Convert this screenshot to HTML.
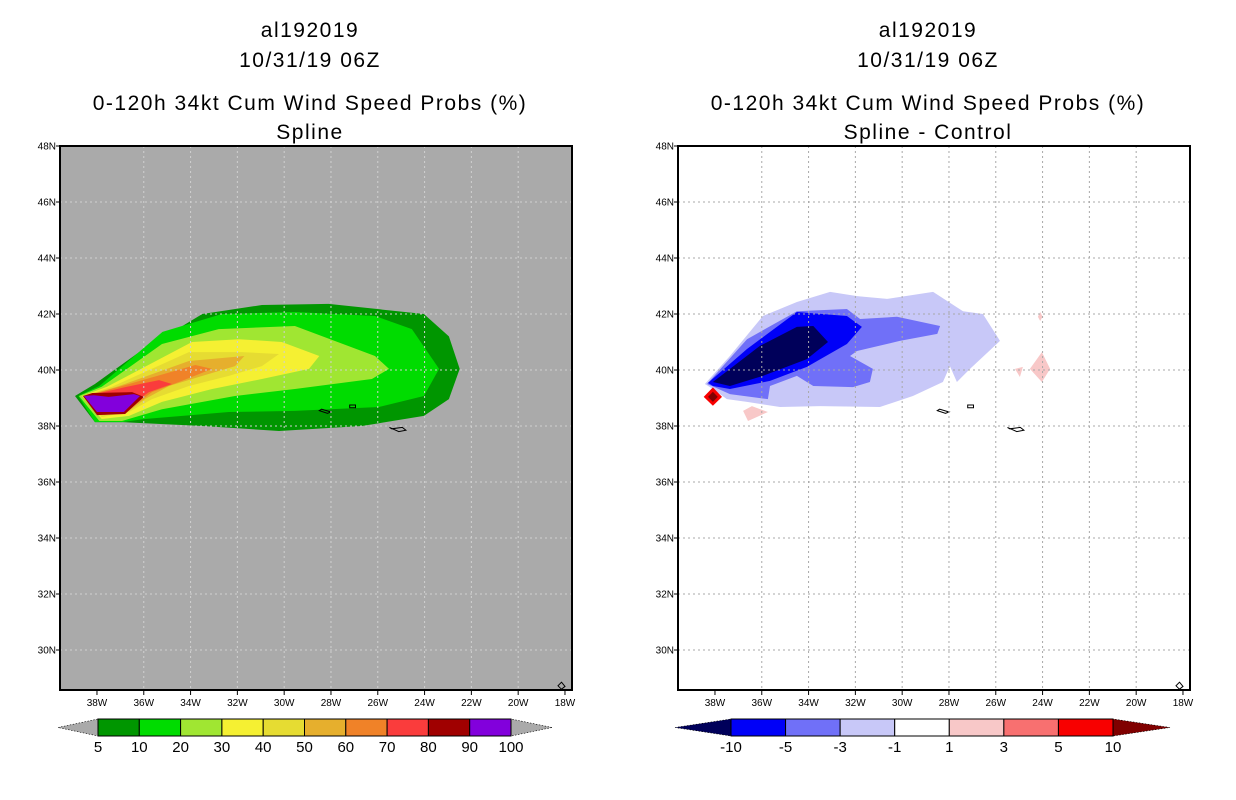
<!DOCTYPE html>
<html><head><meta charset="utf-8"><style>
html,body{margin:0;padding:0;background:#fff;}
svg{display:block;font-family:"Liberation Sans",sans-serif;}
.t{font-size:21px;letter-spacing:1.5px;text-anchor:middle;fill:#000;}
.tk{font-size:10px;fill:#000;}
.cb{font-size:15px;text-anchor:middle;fill:#000;}
</style></head><body>
<svg id="chart" width="1236" height="800" viewBox="0 0 1236 800" xmlns="http://www.w3.org/2000/svg">
<defs>
<clipPath id="clipL"><rect x="60" y="146" width="512" height="544"/></clipPath>
<clipPath id="clipR"><rect x="678" y="146" width="511" height="544"/></clipPath>
</defs>
<g>
<text class="t" x="310" y="37">al192019</text>
<text class="t" x="310" y="67">10/31/19 06Z</text>
<text class="t" x="310" y="110">0-120h 34kt Cum Wind Speed Probs (%)</text>
<text class="t" x="310" y="139">Spline</text>
</g>
<g>
<text class="t" x="928" y="37">al192019</text>
<text class="t" x="928" y="67">10/31/19 06Z</text>
<text class="t" x="928" y="110">0-120h 34kt Cum Wind Speed Probs (%)</text>
<text class="t" x="928" y="139">Spline - Control</text>
</g>
<g id="left"></g>
<g id="right"></g>
<g id="cbars"></g>
</svg>
<script>
const latTicks=[48,46,44,42,40,38,36,34,32,30];
const lonTicks=[38,36,34,32,30,28,26,24,22,20,18];
const leftLevels=["5","10","20","30","40","50","60","70","80","90","100"];
const leftColors=["#009600","#00dc00","#a0e632","#f5f032","#e6dc32","#e6af2d","#f08228","#fa3c3c","#a00000","#8200dc"];
const rightLevels=["-10","-5","-3","-1","1","3","5","10"];
const rightColors=["#00005a","#0000f8","#7070f8","#c8c8f8","#ffffff","#f8c8c8","#f87070","#f80000"];
const p5=[[38.94,39.07],[38.09,39.5],[36.2,40.64],[33.5,42.0],[30.95,42.32],[28.1,42.36],[24.03,42.0],[22.96,41.2],[22.5,40.04],[22.96,38.96],[24.03,38.36],[26.68,38.0],[30.22,37.82],[33.5,38.0],[36.93,38.14],[38.09,38.14]];
const p10=[[38.8,39.07],[37.9,39.43],[35.2,41.36],[32.66,42.0],[29.54,42.07],[26.12,41.93],[24.54,41.46],[23.38,40.04],[24.03,39.07],[25.95,38.68],[29.54,38.54],[32.36,38.5],[35.95,38.25],[36.93,38.14],[38.09,38.14]];
const p20=[[38.77,39.07],[37.8,39.4],[35.22,40.93],[32.8,41.46],[29.54,41.57],[26.12,40.5],[25.52,40.04],[26.25,39.68],[29.54,39.32],[32.1,39.07],[35.22,38.6],[36.93,38.18],[37.9,38.18]];
const p30=[[38.64,39.07],[37.57,39.4],[33.94,41.0],[31.93,41.1],[30.1,41.0],[28.5,40.5],[28.94,40.04],[30.95,39.68],[33.08,39.32],[35.22,38.86],[36.63,38.36],[37.8,38.25]];
const p40=[[38.56,39.07],[37.36,39.4],[34.07,40.64],[31.8,40.64],[30.22,40.57],[30.95,40.14],[32.36,39.79],[34.07,39.43],[35.65,38.96],[36.63,38.5],[37.8,38.32]];
const p50=[[38.5,39.07],[37.15,39.4],[34.07,40.32],[31.7,40.5],[32.1,40.14],[33.5,39.79],[34.92,39.43],[35.95,38.96],[36.63,38.54],[37.7,38.39]];
const p60=[[38.47,39.07],[36.93,39.43],[33.8,40.18],[33.08,40.04],[34.37,39.61],[35.65,39.21],[36.2,38.86],[36.63,38.6],[37.7,38.43]];
const p70=[[38.43,39.07],[36.72,39.4],[35.35,39.64],[34.8,39.5],[35.78,39.21],[36.2,38.96],[36.5,38.71],[37.66,38.5]];
const p80=[[38.6,39.07],[38.2,39.18],[36.5,39.21],[36.0,39.04],[36.8,38.43],[38.0,38.39]];
const p90=[[38.56,39.07],[38.13,39.1],[37.5,39.04],[36.42,39.14],[36.16,39.07],[36.85,38.5],[38.0,38.5]];
const dm1=[[38.43,39.5],[37.36,40.5],[35.95,41.93],[34.5,42.43],[33.08,42.79],[31.93,42.64],[30.65,42.54],[28.68,42.79],[27.4,42.1],[26.55,42.0],[25.82,41.04],[27.1,40.04],[27.66,39.57],[27.96,40.14],[28.26,39.57],[29.54,39.07],[30.95,38.68],[33.5,38.71],[35.22,38.68],[36.63,38.86],[37.49,38.96],[38.09,39.32]];
const dm3=[[38.34,39.5],[36.63,41.1],[34.5,42.1],[32.36,42.18],[31.8,41.82],[30.22,41.9],[28.38,41.57],[28.5,41.29],[30.1,41.04],[31.93,40.68],[32.23,40.5],[31.25,40.04],[31.38,39.57],[32.1,39.39],[33.8,39.43],[34.5,39.79],[35.65,39.43],[35.74,38.96],[37.36,39.14],[38.13,39.43]];
const dm5=[[38.3,39.54],[36.63,40.75],[34.5,42.07],[32.36,41.93],[31.72,41.54],[32.36,40.93],[34.07,40.11],[35.65,39.61],[37.36,39.32],[38.09,39.43]];
const dm10=[[38.09,39.57],[36.08,40.86],[34.5,41.54],[33.8,41.57],[33.17,41.0],[34.07,40.39],[35.95,39.79],[37.36,39.43]];
const dp1a=[[36.8,38.54],[36.42,38.71],[35.74,38.5],[36.59,38.18]];
const dp1b=[[24.03,40.64],[23.68,40.04],[24.03,39.57],[24.54,40.04]];
const dp1c=[[25.18,40.04],[24.84,40.11],[24.97,39.75]];
const dp1d=[[24.1,42.07],[24.0,41.9],[24.1,41.75],[24.2,41.9]];
const dp5=[[38.09,39.38],[37.7,39.04],[38.09,38.72],[38.48,39.04]];
const dp10=[[38.09,39.22],[37.88,39.04],[38.09,38.86],[38.3,39.04]];
const islands=[[[28.5,38.55],[28.15,38.45],[28.0,38.5],[28.4,38.6]],[[27.2,38.75],[26.95,38.75],[26.95,38.65],[27.2,38.65]],[[25.5,37.95],[25.1,37.8],[24.8,37.85],[24.95,37.95],[25.4,37.9]],[[18.15,28.85],[18.0,28.7],[18.15,28.6],[18.3,28.72]]];

const NS="http://www.w3.org/2000/svg";
function mk(tag,attrs,parent){const e=document.createElementNS(NS,tag);for(const k in attrs)e.setAttribute(k,attrs[k]);parent.appendChild(e);return e;}
function panel(g,x0,clip,bg,gridCol,contours){
  const xs=lon=>x0+(39.58-lon)*23.4;
  const ys=lat=>146+(48-lat)*28;
  const pts=a=>a.map(p=>xs(p[0]).toFixed(1)+","+ys(p[1]).toFixed(1)).join(" ");
  const bgR=mk("rect",{x:x0,y:146,width:512,height:544,fill:bg},g);
  
  
  const cg=mk("g",{"clip-path":"url(#"+clip+")"},g);
  
  
  contours.forEach(c=>{
    const p=mk("polygon",{points:pts(c.d),fill:c.f},cg);
    
    
  });
  islands.forEach(a=>{
    const p=mk("polygon",{points:pts(a),fill:"none",stroke:"#000","stroke-width":1},cg);
    
    
  });
  lonTicks.forEach(l=>{
    const x=xs(l);
    if(l!==38&&l!==18){const ln=mk("line",{x1:x,x2:x,y1:146,y2:690,stroke:gridCol,"stroke-width":1,"stroke-dasharray":"2,3"},g);
    
    }
    mk("line",{x1:x,x2:x,y1:690,y2:695,stroke:"#000"},g);
    const t=mk("text",{x:x,y:706,class:"tk","text-anchor":"middle"},g);
    t.textContent=l+"W";
    
    
  });
  latTicks.forEach(l=>{
    const y=ys(l);
    if(l!==48){const ln=mk("line",{x1:x0,x2:x0+512,y1:y,y2:y,stroke:gridCol,"stroke-width":1,"stroke-dasharray":"2,3"},g);
    
    }
    mk("line",{x1:x0-4,x2:x0,y1:y,y2:y,stroke:"#000"},g);
    const t=mk("text",{x:x0-4,y:y+3.5,class:"tk","text-anchor":"end"},g);
    t.textContent=l+"N";
    
    
  });
  const fr=mk("rect",{x:x0,y:146,width:512,height:544,fill:"none",stroke:"#000","stroke-width":2},g);
  
  
}
panel(document.getElementById("left"),60,"clipL","#aaaaaa","#d0d0d0",[
 {d:p5,f:leftColors[0],n:"5"},{d:p10,f:leftColors[1],n:"10"},{d:p20,f:leftColors[2],n:"20"},{d:p30,f:leftColors[3],n:"30"},{d:p40,f:leftColors[4],n:"40"},{d:p50,f:leftColors[5],n:"50"},{d:p60,f:leftColors[6],n:"60"},{d:p70,f:leftColors[7],n:"70"},{d:p80,f:leftColors[8],n:"80"},{d:p90,f:leftColors[9],n:"90"}]);
panel(document.getElementById("right"),678,"clipR","#ffffff","#a8a8a8",[
 {d:dm1,f:rightColors[3],n:"minus1"},{d:dm3,f:rightColors[2],n:"minus3"},{d:dm5,f:rightColors[1],n:"minus5"},{d:dm10,f:rightColors[0],n:"minus10"},
 {d:dp1a,f:rightColors[5],n:"plus1"},{d:dp1b,f:rightColors[5],n:"plus1"},{d:dp1c,f:rightColors[5],n:"plus1"},{d:dp1d,f:rightColors[5],n:"plus1"},
 {d:dp5,f:rightColors[7],n:"plus5"},{d:dp10,f:"#800000",n:"plus10"}]);

function colorbar(g,bx0,bx1,tl,tr,levels,colors,lowCol,highCol,name){
  const cg=mk("g",{},g);
  
  
  const y0=719,y1=736,ym=727.5;
  mk("polygon",{points:`${tl},${ym} ${bx0},${y0} ${bx0},${y1}`,fill:lowCol,stroke:"#000","stroke-width":0.6,"stroke-dasharray":"1.5,1.5"},cg);
  mk("polygon",{points:`${tr},${ym} ${bx1},${y0} ${bx1},${y1}`,fill:highCol,stroke:"#000","stroke-width":0.6,"stroke-dasharray":"1.5,1.5"},cg);
  if(!colors.length)return;
  const w=(bx1-bx0)/colors.length;
  colors.forEach((c,i)=>{
    const r=mk("rect",{x:bx0+i*w,y:y0,width:w,height:y1-y0,fill:c,stroke:"#000","stroke-width":1},cg);
    
    
  });
  levels.forEach((l,i)=>{
    const t=mk("text",{x:bx0+i*w,y:752,class:"cb"},cg);
    t.textContent=l;
    
    
  });
}
const cbg=document.getElementById("cbars");
colorbar(cbg,98,511,58,552,leftLevels,leftColors,"#aaaaaa","#aaaaaa","left-colorbar");
colorbar(cbg,731,1113,675,1170,[],[],"#00005a","#800000","right-colorbar-ends");
(function(){
  const g=mk("g",{},cbg);
  
  
  const bx0=731,bx1=1113,sw=rightColors.slice(1);
  const w=(bx1-bx0)/sw.length;
  sw.forEach((c,i)=>{
    const r=mk("rect",{x:bx0+i*w,y:719,width:w,height:17,fill:c,stroke:"#000","stroke-width":1},g);
    
    
  });
  rightLevels.forEach((l,i)=>{
    const t=mk("text",{x:bx0+i*w,y:752,class:"cb"},g);
    t.textContent=l;
    
    
  });
})();
</script>
</body></html>
